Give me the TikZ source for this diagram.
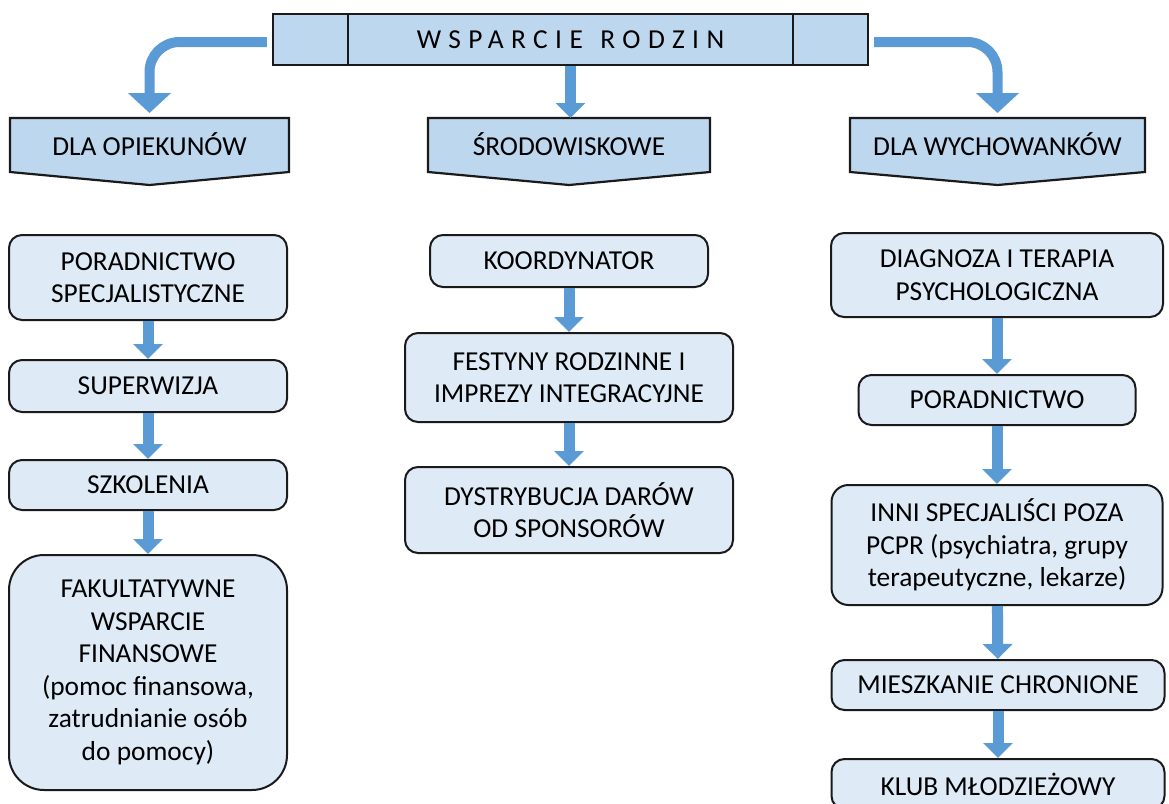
\documentclass[tikz,border=0pt]{standalone}
\usepackage{fontspec}
\setmainfont{Carlito}
\usetikzlibrary{arrows.meta}
\usetikzlibrary{calc}

\definecolor{headblue}{HTML}{BDD7EE}
\definecolor{boxblue}{HTML}{DEEBF7}
\definecolor{arrowblue}{HTML}{5B9BD5}
\definecolor{edgegray}{HTML}{1A1A1A}

\tikzset{
  txt/.style={font=\fontsize{13.7}{16.3}\selectfont, align=center},
  titlebox/.style={txt, draw=edgegray, line width=1.2pt, fill=headblue, minimum width=297.5pt, minimum height=25.5pt, inner sep=0pt},
  headline/.style={draw=edgegray, line width=1.1pt, fill=headblue, line join=miter},
  stage/.style={txt, draw=edgegray, line width=1pt, fill=boxblue, rounded corners=6.5pt, inner sep=0pt},
  flow/.style={draw=arrowblue, line width=5.5pt, -{Triangle[width=14.5pt,length=7.5pt]}},
  bendarrow/.style={draw=arrowblue, line width=5pt, -{Triangle[width=21pt,length=10pt]}, rounded corners=15pt},
}

\newcommand{\drawheader}[4]{
  \filldraw[headline] (#2,118) -- (#3,118) -- (#3,172) -- ({(#2+#3)/2},185) -- (#2,172) -- cycle;
  \coordinate (#1-in) at ({(#2+#3)/2},118);
  \node[txt, inner sep=0pt] (#1) at ({(#2+#3)/2},144) {#4};
}

\begin{document}
\begin{tikzpicture}[x=0.5pt, y=-0.5pt]
  \clip (0,0) rectangle (1169,804);
  \fill[white] (0,0) rectangle (1169,804);
  % root
  \node[titlebox] (root) at (570.5,39.5) {\addfontfeatures{LetterSpace=27}WSPARCIE\hspace{2pt} RODZIN};
  \draw[line width=1.2pt, draw=edgegray] (348,14) -- (348,65) (793,14) -- (793,65);
  % headers
  \drawheader{opk}{10}{289}{DLA OPIEKUNÓW}
  \drawheader{sro}{428}{710}{ŚRODOWISKOWE}
  \drawheader{wyc}{850}{1145}{DLA WYCHOWANKÓW}
  \draw[bendarrow] ([shift={(-5,2.5)}]root.west) -| ([shift={(0,-5)}]opk-in);
  \draw[bendarrow] ([shift={(5,2.5)}]root.east) -| ([shift={(0,-5)}]wyc-in);
  \draw[flow] (root.south) -- (root.south |- sro-in);
  % dla opiekunow
  \node[stage, minimum width=139pt, minimum height=42.5pt] (spec) at (148,277.5) {PORADNICTWO\\SPECJALISTYCZNE};
  \node[stage, minimum width=139pt, minimum height=26pt] (superw) at (148,386) {SUPERWIZJA};
  \node[stage, minimum width=139pt, minimum height=25pt] (szkol) at (148,485) {SZKOLENIA};
  \node[stage, minimum width=139pt, minimum height=117.5pt, rounded corners=17.5pt] (fakult) at (148,672.5) {FAKULTATYWNE\\WSPARCIE\\FINANSOWE\\(pomoc finansowa,\\zatrudnianie osób\\do pomocy)};
  \draw[flow] (spec) -- (superw);
  \draw[flow] (superw) -- (szkol);
  \draw[flow] (szkol) -- (fakult);
  % srodowiskowe
  \node[stage, minimum width=139pt, minimum height=26pt] (koord) at (569,261) {KOORDYNATOR};
  \node[stage, minimum width=164pt, minimum height=44.5pt] (festyn) at (569,377.5) {FESTYNY RODZINNE I\\IMPREZY INTEGRACYJNE};
  \node[stage, minimum width=164pt, minimum height=43pt] (dary) at (569,510) {DYSTRYBUCJA DARÓW\\OD SPONSORÓW};
  \draw[flow] (koord) -- (festyn);
  \draw[flow] (festyn) -- (dary);
  % dla wychowankow
  \node[stage, minimum width=166pt, minimum height=42pt] (diag) at (997,275) {DIAGNOZA I TERAPIA\\PSYCHOLOGICZNA};
  \node[stage, minimum width=138.5pt, minimum height=25pt] (porad) at (997,400) {PORADNICTWO};
  \node[stage, minimum width=165.5pt, minimum height=60pt, rounded corners=8.5pt] (inni) at (997,545) {INNI SPECJALIŚCI POZA\\PCPR (psychiatra, grupy\\terapeutyczne, lekarze)};
  \node[stage, minimum width=166.5pt, minimum height=25pt] (mieszk) at (998,685) {MIESZKANIE CHRONIONE};
  \node[stage, minimum width=166.5pt, minimum height=25pt] (klub) at (998,784) {KLUB MŁODZIEŻOWY};
  \draw[flow] (diag) -- (porad);
  \draw[flow] (porad) -- (inni);
  \draw[flow] (inni) -- (mieszk);
  \draw[flow] (mieszk) -- (klub);
\end{tikzpicture}
\end{document}
